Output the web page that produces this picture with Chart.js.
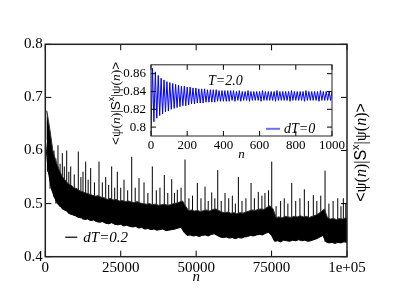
<!DOCTYPE html>
<html>
<head>
<meta charset="utf-8">
<script src="https://cdn.jsdelivr.net/npm/chart.js@4.4.1/dist/chart.umd.min.js"></script>
<style>
  body { margin: 0; background: #fff; }
  #wrap { position: relative; width: 415px; height: 294px; }
  #main { position: absolute; left: 0; top: 0; }
  #inset { position: absolute; left: 95px; top: 52px; }
</style>
</head>
<body>
<div id="wrap">
  <canvas id="main" width="415" height="294"></canvas>
  <canvas id="inset" width="270" height="110"></canvas>
</div>
<script>
// main run (dT=0.2): lower / upper edge of the noisy band, read every 1000 steps
var mainStep = 1000;
var mainLow = [0.62,0.56,0.528,0.512,0.5,0.494,0.489,0.486,0.481,0.479,
  0.477,0.474,0.473,0.47,0.471,0.468,0.469,0.466,0.465,0.466,
  0.463,0.462,0.464,0.461,0.46,0.461,0.458,0.459,0.457,0.456,
  0.457,0.454,0.455,0.452,0.453,0.451,0.452,0.45,0.451,0.452,
  0.449,0.45,0.451,0.452,0.454,0.455,0.446,0.44,0.441,0.439,
  0.44,0.438,0.44,0.441,0.439,0.442,0.443,0.44,0.437,0.436,
  0.437,0.435,0.436,0.434,0.436,0.435,0.437,0.438,0.44,0.439,
  0.441,0.442,0.441,0.444,0.446,0.44,0.429,0.43,0.428,0.431,
  0.43,0.429,0.431,0.43,0.432,0.43,0.431,0.429,0.43,0.432,
  0.434,0.437,0.44,0.428,0.426,0.427,0.425,0.427,0.426,0.428,0.427];
var mainHigh = [0.675,0.64,0.6,0.58,0.565,0.552,0.545,0.538,0.535,0.53,
  0.528,0.524,0.522,0.52,0.518,0.516,0.514,0.515,0.512,0.511,
  0.508,0.51,0.507,0.508,0.505,0.506,0.504,0.505,0.503,0.502,
  0.504,0.501,0.5,0.499,0.5,0.498,0.499,0.497,0.498,0.499,
  0.497,0.498,0.5,0.501,0.503,0.505,0.495,0.487,0.488,0.486,
  0.487,0.485,0.487,0.488,0.486,0.489,0.49,0.487,0.484,0.483,
  0.484,0.482,0.483,0.481,0.483,0.482,0.484,0.486,0.488,0.487,
  0.489,0.49,0.489,0.493,0.496,0.49,0.474,0.475,0.473,0.476,
  0.475,0.474,0.476,0.475,0.477,0.475,0.476,0.474,0.476,0.478,
  0.481,0.485,0.49,0.474,0.471,0.472,0.47,0.472,0.471,0.473,0.472];
// isolated spikes above the band
var spikeN = [130,700,1560,2200,2880,3500,4200,4900,5640,6300,7090,7800,8420,9600,10940,11800,12500,13380,14200,15040,
  16300,17800,18900,20020,21000,22000,23000,23870,25000,26090,27300,28640,29800,31060,32720,34000,35470,36800,38000,39450,
  40600,41900,42800,43760,45000,46310,47600,48800,50400,51600,52940,54000,55160,56200,57150,58300,59570,60800,62000,63000,
  64000,65200,66500,68200,69300,70600,71800,72800,74000,75050,76500,78000,79200,80400,81680,83000,84400,85860,87200,88840,
  90000,91300,92720,94000,95400,96930,98000,98790,99600];
var spikeTop = [0.675,0.655,0.617,0.6,0.6,0.585,0.61,0.575,0.595,0.57,0.6,0.56,0.57,0.555,0.598,0.55,0.56,0.579,0.545,0.567,
  0.54,0.579,0.54,0.55,0.535,0.57,0.53,0.56,0.53,0.545,0.525,0.588,0.53,0.548,0.54,0.52,0.57,0.525,0.53,0.554,
  0.52,0.546,0.52,0.526,0.53,0.583,0.51,0.515,0.539,0.51,0.532,0.505,0.521,0.51,0.563,0.505,0.52,0.51,0.515,0.5,
  0.55,0.505,0.51,0.539,0.51,0.522,0.515,0.52,0.525,0.579,0.495,0.505,0.51,0.5,0.539,0.505,0.51,0.527,0.505,0.516,
  0.505,0.515,0.562,0.5,0.505,0.51,0.495,0.51,0.5];
var mainXTicks = [0, 25000, 50000, 75000, 100000];
var mainYTicks = [0.4, 0.5, 0.6, 0.7, 0.8];

// inset run (dT=0): alternating troughs and peaks, every 8 steps
var insetStep = 8;
var insetTrough = [0.79,0.806,0.81,0.813,0.815,0.817,0.818,0.82,0.821,0.822,0.823,0.824,0.824,0.825,0.826,0.826,
  0.827,0.827,0.827,0.828,0.828,0.828,0.828,0.829,0.829,0.829,0.829,0.829,0.83,0.829,0.83,0.829,
  0.83,0.83,0.829,0.83,0.83,0.83,0.829,0.83,0.83,0.83,0.83,0.829,0.83,0.83,0.83,0.83,
  0.829,0.83,0.83,0.83,0.83,0.829,0.83,0.83,0.83,0.83,0.829,0.83,0.83,0.83,0.83];
var insetPeak = [0.866,0.862,0.858,0.855,0.853,0.851,0.85,0.849,0.848,0.847,0.846,0.846,0.845,0.845,0.844,0.844,
  0.843,0.843,0.843,0.842,0.842,0.842,0.842,0.841,0.841,0.841,0.841,0.841,0.841,0.84,0.841,0.84,
  0.84,0.841,0.84,0.84,0.84,0.84,0.841,0.84,0.84,0.84,0.84,0.841,0.84,0.84,0.84,0.84,
  0.841,0.84,0.84,0.84,0.84,0.841,0.84,0.84,0.84,0.84,0.841,0.84,0.84,0.84,0.84];
var insetXTicks = [0, 200, 400, 600, 800, 1000];
var insetYTicks = [0.8, 0.82, 0.84, 0.86];

var SERIF = 'Liberation Serif';
var SANS = 'Liberation Sans';
Chart.defaults.font.family = SERIF;
Chart.defaults.color = '#000';

var lowPts = [], highPts = [];
for (var i = 0; i < mainLow.length; i++) {
  lowPts.push({x: i * mainStep, y: mainLow[i]});
  highPts.push({x: i * mainStep + mainStep / 2, y: mainHigh[i]});
}
var spikePts = [];
for (i = 0; i < spikeN.length; i++) {
  var base = mainLow[Math.round(spikeN[i] / mainStep)];
  spikePts.push({x: spikeN[i], y: base}, {x: spikeN[i], y: spikeTop[i]}, {x: spikeN[i], y: null});
}
var insetPts = [];
for (i = 0; i < insetTrough.length; i++) {
  insetPts.push({x: 2 * i * insetStep, y: insetTrough[i]});
  insetPts.push({x: (2 * i + 1) * insetStep, y: insetPeak[i]});
}

function drawPsiLabel(ctx, cx, cy, size) {
  var serif = 'px ' + SERIF, sans = 'px ' + SANS;
  var parts = [
    ['<', size + sans, 0], ['\u03c8(', size + serif, 0], ['n', 'italic ' + size + serif, 0],
    [')|', size + serif, 0], ['S', size + sans, 0], ['x', Math.round(size * 0.68) + sans, -0.42 * size],
    ['|\u03c8(', size + serif, 0], ['n', 'italic ' + size + serif, 0], [')', size + serif, 0], ['>', size + sans, 0]
  ];
  ctx.save();
  ctx.translate(cx, cy);
  ctx.rotate(-Math.PI / 2);
  ctx.fillStyle = '#000';
  ctx.textBaseline = 'alphabetic';
  ctx.textAlign = 'left';
  var total = 0;
  parts.forEach(function (p) { ctx.font = p[1]; p.w = ctx.measureText(p[0]).width; total += p.w; });
  var x = -total / 2;
  parts.forEach(function (p) { ctx.font = p[1]; ctx.fillText(p[0], x, 0.35 * size + p[2]); x += p.w; });
  ctx.restore();
}

function framePlugin(tickLen, lw) {
  return {
    id: 'frame',
    afterDatasetsDraw: function (chart) {
      var a = chart.chartArea, c = chart.ctx, xs = chart.scales.x, ys = chart.scales.y;
      c.save();
      c.strokeStyle = '#000';
      c.lineWidth = 1;
      c.beginPath();
      xs.ticks.forEach(function (t) {
        var p = xs.getPixelForValue(t.value);
        c.moveTo(p, a.bottom); c.lineTo(p, a.bottom - tickLen);
        c.moveTo(p, a.top); c.lineTo(p, a.top + tickLen);
      });
      ys.ticks.forEach(function (t) {
        var p = ys.getPixelForValue(t.value);
        c.moveTo(a.left, p); c.lineTo(a.left + tickLen, p);
        c.moveTo(a.right, p); c.lineTo(a.right - tickLen, p);
      });
      c.stroke();
      c.lineWidth = lw;
      c.strokeStyle = '#222';
      c.strokeRect(a.left, a.top, a.right - a.left, a.bottom - a.top);
      c.restore();
    }
  };
}

var mainText = {
  id: 'mainText',
  afterDraw: function (chart) {
    var a = chart.chartArea, c = chart.ctx;
    c.save();
    c.strokeStyle = '#000';
    c.lineWidth = 1.2;
    c.beginPath();
    c.moveTo(a.left + 20, a.bottom - 19.5);
    c.lineTo(a.left + 32, a.bottom - 19.5);
    c.stroke();
    c.fillStyle = '#000';
    c.font = 'italic 15px ' + SERIF;
    c.textBaseline = 'middle';
    c.fillText('dT=0.2', a.left + 38, a.bottom - 19);
    c.restore();
    drawPsiLabel(c, a.right + 13, (a.top + a.bottom) / 2 + 2, 16);
  }
};

var insetText = {
  id: 'insetText',
  beforeDraw: function (chart) {
    var a = chart.chartArea, c = chart.ctx;
    c.save();
    c.fillStyle = '#fff';
    c.fillRect(a.left, a.top, a.right - a.left, a.bottom - a.top);
    c.restore();
  },
  afterDraw: function (chart) {
    var a = chart.chartArea, c = chart.ctx;
    c.save();
    c.fillStyle = '#000';
    c.font = 'italic 14px ' + SERIF;
    c.textBaseline = 'middle';
    c.fillText('T=2.0', a.left + 57, a.top + 17);
    c.strokeStyle = '#6b6bff';
    c.lineWidth = 2;
    c.beginPath();
    c.moveTo(a.left + 115, a.top + 64);
    c.lineTo(a.left + 129, a.top + 64);
    c.stroke();
    c.fillText('dT=0', a.left + 133, a.top + 64.5);
    c.restore();
    drawPsiLabel(c, 20, (a.top + a.bottom) / 2 + 3, 13.5);
  }
};

new Chart(document.getElementById('main'), {
  type: 'line',
  data: {
    datasets: [
      {data: lowPts, borderColor: '#000', borderWidth: 1, pointRadius: 0, tension: 0, fill: false},
      {data: highPts, borderColor: '#333', borderWidth: 1, pointRadius: 0, tension: 0, fill: '-1', backgroundColor: '#000'},
      {data: spikePts, borderColor: '#000', borderWidth: 1, pointRadius: 0, tension: 0, spanGaps: false, fill: false}
    ]
  },
  options: {
    responsive: false,
    animation: false,
    events: [],
    layout: {padding: {left: 0, right: 68, top: 44.3, bottom: 0}},
    plugins: {legend: {display: false}, tooltip: {enabled: false}, filler: {propagate: false}},
    scales: {
      x: {
        type: 'linear', min: 0, max: 100000,
        afterBuildTicks: function (s) { s.ticks = mainXTicks.map(function (v) { return {value: v}; }); },
        afterFit: function (s) { s.height = 37.3; },
        grid: {display: false, drawTicks: false},
        border: {display: false},
        ticks: {
          autoSkip: false, maxRotation: 0, padding: 2,
          font: {size: 15},
          callback: function (v) { return v === 100000 ? '1e+05' : String(v); }
        },
        title: {display: true, text: 'n', font: {size: 15, style: 'italic'}, padding: {top: 0, bottom: 8}}
      },
      y: {
        type: 'linear', min: 0.4, max: 0.8,
        afterBuildTicks: function (s) { s.ticks = mainYTicks.map(function (v) { return {value: v}; }); },
        afterFit: function (s) { s.width = 45.3; },
        grid: {display: false, drawTicks: false},
        border: {display: false},
        ticks: {padding: 2.5, font: {size: 15}, callback: function (v) { return v.toFixed(1); }}
      }
    }
  },
  plugins: [framePlugin(6, 1.5), mainText]
});

new Chart(document.getElementById('inset'), {
  type: 'line',
  data: {
    datasets: [
      {data: insetPts, borderColor: '#0000ff', borderWidth: 1, pointRadius: 0, tension: 0}
    ]
  },
  options: {
    responsive: false,
    animation: false,
    events: [],
    layout: {padding: {left: 0, right: 33, top: 9, bottom: 0}},
    plugins: {legend: {display: false}, tooltip: {enabled: false}},
    scales: {
      x: {
        type: 'linear', min: 0, max: 1000,
        afterBuildTicks: function (s) { s.ticks = insetXTicks.map(function (v) { return {value: v}; }); },
        afterFit: function (s) { s.height = 26; },
        grid: {display: false, drawTicks: false},
        border: {display: false},
        ticks: {autoSkip: false, maxRotation: 0, padding: 2, font: {size: 13}, callback: function (v) { return String(v); }},
        title: {display: true, text: 'n', font: {size: 13, style: 'italic'}, padding: {top: 0, bottom: 0}}
      },
      y: {
        type: 'linear', min: 0.79, max: 0.87,
        afterBuildTicks: function (s) { s.ticks = insetYTicks.map(function (v) { return {value: v}; }); },
        afterFit: function (s) { s.width = 56; },
        grid: {display: false, drawTicks: false},
        border: {display: false},
        ticks: {padding: 5, font: {size: 13}, callback: function (v) { return v === 0.8 ? '0.8' : v.toFixed(2); }}
      }
    }
  },
  plugins: [framePlugin(5, 1), insetText]
});
</script>
</body>
</html>
